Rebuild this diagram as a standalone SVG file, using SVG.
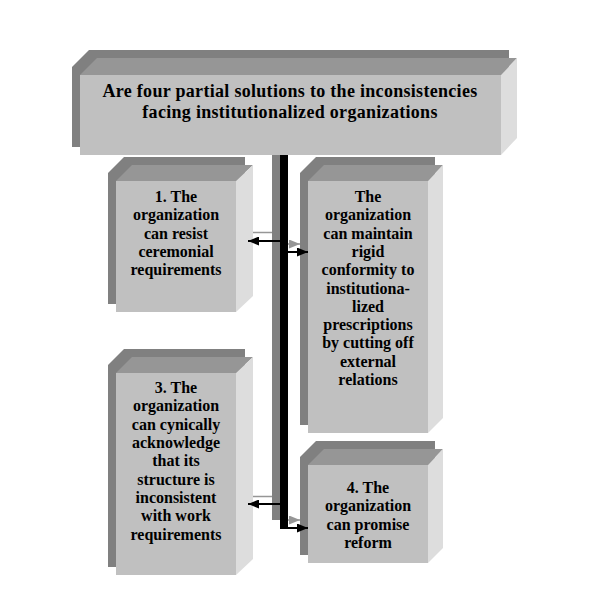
<svg xmlns="http://www.w3.org/2000/svg" width="613" height="601" viewBox="0 0 613 601">
<style>
.shadow{fill:#808080}
.front{fill:#c0c0c0}
.top{fill:#969696}
.side{fill:#dddddd}
text{font-family:"Liberation Serif","Times New Roman",serif;font-weight:bold;fill:#000;text-anchor:middle}
.h{font-size:18px;letter-spacing:0.3px}
.b{font-size:16px}
.ln{fill:none;stroke:#000;stroke-width:2}
.sl{fill:none;stroke:#969696;stroke-width:1.5}
</style>
<defs>
<marker id="ah" viewBox="0 0 11 9" refX="11" refY="4.5" markerUnits="userSpaceOnUse" markerWidth="11" markerHeight="9" orient="auto"><path d="M0,0 L11,4.5 L0,9 z" fill="#000"/></marker>
<marker id="ahg" viewBox="0 0 11 9" refX="11" refY="4.5" markerUnits="userSpaceOnUse" markerWidth="11" markerHeight="9" orient="auto"><path d="M0,0 L11,4.5 L0,9 z" fill="#969696"/></marker>
</defs>
<rect width="613" height="601" fill="#fff"/>
<g id="header">
<polygon class="shadow" points="72,67 89,50 509,50 509,130 493,147 72,147"/>
<rect class="front" x="80" y="75" width="421" height="80"/>
<polygon class="top" points="80,75 97,58 517,58 501,75"/>
<polygon class="side" points="501,75 517,58 517,138 501,155"/>
<text class="h" x="290" y="97">Are four partial solutions to the inconsistencies</text>
<text class="h" x="290" y="118">facing institutionalized organizations</text>
</g>
<g id="box1">
<polygon class="shadow" points="108,173 124,157 245,157 245,288 228,304 108,304"/>
<rect class="front" x="116" y="181" width="120" height="131"/>
<polygon class="top" points="116,181 132,165 253,165 236,181"/>
<polygon class="side" points="236,181 253,165 253,296 236,312"/>
<text class="b" x="176"><tspan x="176" y="202">1. The</tspan><tspan x="176" y="220">organization</tspan><tspan x="176" y="238.5">can resist</tspan><tspan x="176" y="257">ceremonial</tspan><tspan x="176" y="275">requirements</tspan></text>
</g>
<g id="box2">
<polygon class="shadow" points="300,173 316,157 435,157 435,409 420,425 300,425"/>
<rect class="front" x="308" y="181" width="120" height="252"/>
<polygon class="top" points="308,181 324,165 443,165 428,181"/>
<polygon class="side" points="428,181 443,165 443,418 428,433"/>
<text class="b" x="368"><tspan x="368" y="202">The</tspan><tspan x="368" y="220.3">organization</tspan><tspan x="368" y="238.6">can maintain</tspan><tspan x="368" y="257">rigid</tspan><tspan x="368" y="275.2">conformity to</tspan><tspan x="368" y="293.5">institutiona-</tspan><tspan x="368" y="311.8">lized</tspan><tspan x="368" y="330">prescriptions</tspan><tspan x="368" y="348.4">by cutting off</tspan><tspan x="368" y="366.7">external</tspan><tspan x="368" y="385">relations</tspan></text>
</g>
<g id="box3">
<polygon class="shadow" points="108,365 124,349 245,349 245,551 228,567 108,567"/>
<rect class="front" x="116" y="373" width="120" height="202"/>
<polygon class="top" points="116,373 132,357 253,357 236,373"/>
<polygon class="side" points="236,373 253,357 253,559 236,575"/>
<text class="b" x="176"><tspan x="176" y="393">3. The</tspan><tspan x="176" y="411.4">organization</tspan><tspan x="176" y="429.8">can cynically</tspan><tspan x="176" y="448">acknowledge</tspan><tspan x="176" y="466.3">that its</tspan><tspan x="176" y="484.6">structure is</tspan><tspan x="176" y="503">inconsistent</tspan><tspan x="176" y="521.3">with work</tspan><tspan x="176" y="539.6">requirements</tspan></text>
</g>
<g id="box4">
<polygon class="shadow" points="300,457 316,441 435,441 435,539 420,555 300,555"/>
<rect class="front" x="308" y="465" width="120" height="98"/>
<polygon class="top" points="308,465 324,449 443,449 428,465"/>
<polygon class="side" points="428,465 443,449 443,548 428,563"/>
<text class="b" x="368"><tspan x="368" y="493">4. The</tspan><tspan x="368" y="511.3">organization</tspan><tspan x="368" y="529.6">can promise</tspan><tspan x="368" y="548">reform</tspan></text>
</g>
<g id="connectors">
<rect x="272" y="155" width="8" height="365" fill="#808080"/>
<line class="sl" x1="253" y1="232.5" x2="272" y2="232.5"/>
<line class="sl" x1="253" y1="496.5" x2="272" y2="496.5"/>
<line class="sl" x1="280" y1="244" x2="300" y2="244" marker-end="url(#ahg)"/>
<line class="sl" x1="280" y1="520" x2="300" y2="520" marker-end="url(#ahg)"/>
<rect x="280" y="155" width="8" height="374" fill="#000"/>
<line class="ln" x1="280" y1="241" x2="248" y2="241" marker-end="url(#ah)"/>
<line class="ln" x1="288" y1="252" x2="308" y2="252" marker-end="url(#ah)"/>
<line class="ln" x1="280" y1="504" x2="248" y2="504" marker-end="url(#ah)"/>
<line class="ln" x1="280" y1="528" x2="308" y2="528" marker-end="url(#ah)"/>
</g>
</svg>
